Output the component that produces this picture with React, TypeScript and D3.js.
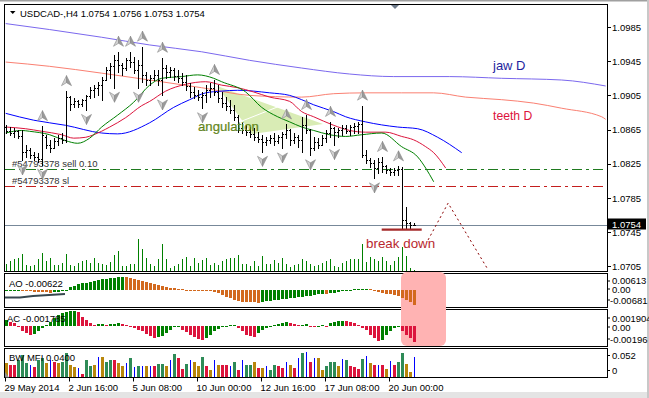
import * as d3 from 'd3';

// H4 bars, USDCAD
const barOpen = [1.0868,1.0863,1.0861,1.0863,1.0857,1.0839,1.0841,1.0835,1.0833,1.0831,1.0856,1.0847,1.0843,1.0852,1.0855,1.0853,1.0903,1.0895,1.0898,1.0895,1.0900,1.0904,1.0911,1.0914,1.0917,1.0923,1.0935,1.0939,1.0946,1.0941,1.0937,1.0946,1.0944,1.0935,1.0941,1.0929,1.0923,1.0925,1.0929,1.0923,1.0937,1.0932,1.0935,1.0928,1.0925,1.0921,1.0916,1.0909,1.0905,1.0903,1.0905,1.0911,1.0914,1.0909,1.0902,1.0896,1.0893,1.0888,1.0880,1.0867,1.0864,1.0862,1.0860,1.0856,1.0854,1.0850,1.0853,1.0855,1.0852,1.0856,1.0860,1.0864,1.0853,1.0856,1.0853,1.0870,1.0864,1.0843,1.0850,1.0847,1.0855,1.0861,1.0867,1.0862,1.0864,1.0867,1.0863,1.0868,1.0869,1.0871,1.0835,1.0829,1.0826,1.0820,1.0827,1.0822,1.0818,1.0815,1.0818,1.0819,1.0759,1.0756,1.0754];
const barHigh = [1.0870,1.0868,1.0867,1.0864,1.0864,1.0847,1.0843,1.0839,1.0838,1.0869,1.0859,1.0853,1.0855,1.0859,1.0861,1.0910,1.0904,1.0902,1.0900,1.0901,1.0905,1.0915,1.0917,1.0921,1.0927,1.0938,1.0943,1.0952,1.0956,1.0943,1.0949,1.0956,1.0950,1.0946,1.0962,1.0932,1.0929,1.0935,1.0935,1.0949,1.0941,1.0938,1.0937,1.0935,1.0931,1.0929,1.0920,1.0915,1.0911,1.0909,1.0917,1.0920,1.0923,1.0917,1.0909,1.0903,1.0900,1.0894,1.0882,1.0873,1.0870,1.0868,1.0867,1.0862,1.0859,1.0856,1.0859,1.0861,1.0859,1.0862,1.0871,1.0866,1.0861,1.0859,1.0880,1.0882,1.0866,1.0856,1.0855,1.0859,1.0864,1.0874,1.0868,1.0867,1.0870,1.0870,1.0870,1.0873,1.0874,1.0893,1.0841,1.0832,1.0829,1.0832,1.0833,1.0824,1.0820,1.0820,1.0822,1.0821,1.0774,1.0757,1.0756];
const barLow = [1.0861,1.0859,1.0856,1.0855,1.0829,1.0833,1.0832,1.0829,1.0827,1.0824,1.0843,1.0839,1.0843,1.0847,1.0849,1.0850,1.0888,1.0891,1.0891,1.0893,1.0888,1.0902,1.0903,1.0905,1.0900,1.0923,1.0925,1.0914,1.0932,1.0929,1.0935,1.0938,1.0931,1.0914,1.0921,1.0917,1.0917,1.0923,1.0917,1.0905,1.0925,1.0927,1.0923,1.0921,1.0917,1.0911,1.0903,1.0902,1.0900,1.0890,1.0897,1.0903,1.0905,1.0897,1.0891,1.0888,1.0884,1.0876,1.0862,1.0861,1.0859,1.0856,1.0853,1.0850,1.0839,1.0847,1.0849,1.0847,1.0849,1.0843,1.0855,1.0847,1.0849,1.0845,1.0839,1.0861,1.0835,1.0841,1.0843,1.0847,1.0850,1.0856,1.0847,1.0856,1.0859,1.0861,1.0859,1.0861,1.0861,1.0833,1.0826,1.0821,1.0808,1.0814,1.0815,1.0814,1.0812,1.0812,1.0812,1.0750,1.0750,1.0750,1.0753];
const barClose = [1.0863,1.0861,1.0863,1.0857,1.0839,1.0841,1.0835,1.0833,1.0831,1.0859,1.0847,1.0843,1.0852,1.0855,1.0853,1.0903,1.0895,1.0898,1.0895,1.0900,1.0904,1.0911,1.0914,1.0917,1.0923,1.0935,1.0939,1.0946,1.0941,1.0937,1.0946,1.0944,1.0935,1.0941,1.0929,1.0923,1.0925,1.0929,1.0923,1.0937,1.0932,1.0935,1.0928,1.0925,1.0921,1.0916,1.0909,1.0905,1.0903,1.0905,1.0911,1.0914,1.0909,1.0902,1.0896,1.0893,1.0888,1.0880,1.0867,1.0864,1.0862,1.0860,1.0856,1.0854,1.0850,1.0853,1.0855,1.0852,1.0856,1.0860,1.0864,1.0853,1.0856,1.0853,1.0870,1.0864,1.0843,1.0850,1.0847,1.0855,1.0861,1.0867,1.0862,1.0864,1.0867,1.0863,1.0868,1.0869,1.0871,1.0835,1.0829,1.0826,1.0820,1.0827,1.0822,1.0818,1.0815,1.0818,1.0819,1.0759,1.0756,1.0754,1.0754];
const tickVolume = [350,500,600,650,850,300,250,300,600,900,500,650,300,300,400,850,300,250,400,500,550,400,650,400,350,300,450,800,1000,250,250,350,350,1600,1100,650,350,250,600,1350,600,150,250,350,600,700,250,650,400,550,650,300,400,300,500,600,650,650,800,350,350,250,500,250,750,350,350,550,400,650,350,200,300,350,600,500,350,250,300,400,500,600,250,200,400,500,600,600,600,1350,450,700,600,500,700,500,300,500,700,1200,750,150,50];

// fractal bars (up above highs, down below lows)
const upFractals = [9,15,28,31,34,39,52,70,75,81,89,94,98];
const downFractals = [4,9,20,27,33,39,49,64,69,76,82,92];

// alligator H4 [bar, price]
const jawH4 = [[0,1.0884],[7,1.0876],[15,1.0870],[24,1.0861],[28,1.0860],[36,1.0873],[42,1.0891],[46,1.0900],[50,1.0908],[54,1.0910],[58,1.0911],[66,1.0908],[71,1.0905],[74,1.0900],[77,1.0894],[82,1.0886],[85,1.0880],[90,1.0874],[98,1.0868],[103,1.0866],[108,1.0856],[114,1.0838]];
const teethH4 = [[0,1.0868],[5,1.0866],[9,1.0863],[14,1.0859],[17,1.0855],[20,1.0856],[22,1.0859],[26,1.0868],[30,1.0879],[34,1.0893],[36,1.0898],[40,1.0910],[45,1.0918],[50,1.0921],[54,1.0917],[58,1.0914],[62,1.0909],[66,1.0903],[71,1.0898],[74,1.0886],[77,1.0880],[82,1.0870],[86,1.0864],[90,1.0862],[95,1.0862],[99,1.0857],[102,1.0853],[105,1.0845],[107,1.0838],[110,1.0820]];
const lipsH4 = [[0,1.0861],[4,1.0864],[6,1.0863],[11,1.0859],[15,1.0852],[18,1.0849],[21,1.0855],[24,1.0868],[28,1.0882],[32,1.0897],[36,1.0917],[39,1.0925],[44,1.0927],[48,1.0929],[52,1.0925],[54,1.0921],[60,1.0909],[64,1.0891],[68,1.0880],[71,1.0874],[74,1.0868],[77,1.0864],[81,1.0859],[85,1.0857],[89,1.0859],[94,1.0861],[99,1.0845],[103,1.0833],[105,1.0820],[107,1.0804]];
// alligator D1 projected on H4
const jawD = [[0,1.0989],[11,1.0982],[24,1.0973],[36,1.0964],[49,1.0956],[61,1.0946],[74,1.0937],[86,1.0930],[97,1.0927],[111,1.0927],[124,1.0925],[139,1.0923],[150,1.0916]];
const teethD = [[0,1.0944],[11,1.0939],[24,1.0931],[36,1.0923],[49,1.0914],[61,1.0905],[74,1.0903],[82,1.0907],[90,1.0908],[99,1.0908],[107,1.0908],[115,1.0903],[124,1.0900],[132,1.0896],[139,1.0890],[149,1.0880],[150,1.0877]];

const aoValues = [-0.0006,-0.0005,-0.0004,-0.0003,-0.0004,-0.0005,-0.0006,-0.0008,-0.0009,-0.0010,-0.0011,-0.0012,-0.0010,-0.0008,-0.0005,-0.0002,0.0010,0.0015,0.0024,0.0026,0.0029,0.0032,0.0036,0.0040,0.0043,0.0045,0.0047,0.0050,0.0051,0.0053,0.0051,0.0049,0.0045,0.0040,0.0038,0.0032,0.0029,0.0024,0.0020,0.0015,0.0013,0.0008,0.0006,0.0003,0.0001,0.0000,-0.0001,-0.0002,-0.0003,-0.0004,-0.0005,-0.0006,-0.0008,-0.0015,-0.0022,-0.0029,-0.0036,-0.0043,-0.0047,-0.0050,-0.0051,-0.0052,-0.0053,-0.0054,-0.0052,-0.0049,-0.0046,-0.0044,-0.0042,-0.0040,-0.0038,-0.0036,-0.0034,-0.0032,-0.0029,-0.0027,-0.0025,-0.0022,-0.0019,-0.0016,-0.0018,-0.0015,-0.0012,-0.0009,-0.0006,-0.0003,-0.0001,0.0001,0.0002,0.0003,0.0004,0.0002,-0.0003,-0.0008,-0.0013,-0.0016,-0.0019,-0.0023,-0.0027,-0.0035,-0.0043,-0.0053,-0.00622];
const acValues = [0.00076,0.00057,0.00038,0.0,-0.00057,-0.00076,-0.00095,-0.00083,-0.00057,-0.00019,0.00019,0.00057,0.00095,0.00133,0.00152,0.00171,0.00175,0.00180,0.00171,0.00114,0.00076,0.00038,0.00015,0.00023,0.00030,0.00019,0.00027,0.00034,0.00038,0.00030,0.00015,0.0,-0.00019,-0.00038,-0.00057,-0.00083,-0.00114,-0.00133,-0.00121,-0.00106,-0.00076,-0.00038,-0.00011,0.00008,-0.00038,-0.00068,-0.00095,-0.00121,-0.00140,-0.00152,-0.00133,-0.00095,-0.00057,-0.00030,-0.00008,0.00008,0.00015,0.00019,-0.00019,-0.00057,-0.00095,-0.00114,-0.00121,-0.00076,-0.00045,-0.00019,0.00008,0.00015,0.00023,0.00038,0.00053,0.00045,0.00030,0.00015,0.00019,0.00023,0.00008,0.00004,0.00011,0.00015,0.00004,0.00045,0.00057,0.00064,0.00068,0.00064,0.00053,0.00038,0.00019,-0.00019,-0.00045,-0.00095,-0.00133,-0.00171,-0.00152,-0.00095,-0.00057,-0.00019,-0.00011,-0.00057,-0.00095,-0.00133,-0.001785];
const mfiValues = [0.0280,0.0247,0.0247,0.0347,0.0447,0.0280,0.0247,0.0213,0.0347,0.0380,0.0280,0.0347,0.0313,0.0280,0.0313,0.0480,0.0247,0.0213,0.0180,0.0067,0.0347,0.0227,0.0247,0.0413,0.0400,0.0313,0.0347,0.0347,0.0280,0.0227,0.0280,0.0380,0.0213,0.0227,0.0227,0.0227,0.0227,0.0227,0.0260,0.0260,0.0227,0.0347,0.0460,0.0393,0.0160,0.0267,0.0347,0.0313,0.0227,0.0400,0.0227,0.0147,0.0347,0.0247,0.0247,0.0247,0.0227,0.0313,0.0147,0.0347,0.0240,0.0240,0.0313,0.0180,0.0180,0.0227,0.0147,0.0247,0.0227,0.0180,0.0313,0.0247,0.0180,0.0380,0.0493,0.0513,0.0313,0.0380,0.0380,0.0147,0.0227,0.0313,0.0313,0.0227,0.0360,0.0347,0.0227,0.0213,0.0173,0.0373,0.0427,0.0280,0.0247,0.0247,0.0247,0.0160,0.0333,0.0240,0.0313,0.0493,0.0267,0.0113,0.0400];
// G green, B fade, U fake, P squat
const mfiKinds = ('BPPGGGUPGG' + 'BUPBGGBBUP' + 'GGBUBGGPBB' + 'UGUGUBUPGG' + 'BUGPPGUBBG' + 'PBUBPPUGPU' + 'GGBPBUGGPP' + 'UBPUGUPUBB' + 'GGGBUGPPPG' + 'UBPUPBUPGG' + 'BBU').split('');

const priceTicks = [1.0985, 1.0945, 1.0905, 1.0865, 1.0825, 1.0785, 1.0745, 1.0705];
const timeTicks = [0, 16, 32, 48, 64, 80, 96];
const timeLabels = ['29 May 2014', '2 Jun 16:00', '5 Jun 08:00', '10 Jun 00:00', '12 Jun 16:00', '17 Jun 08:00', '20 Jun 00:00'];

const sellPrice = 1.0819;
const slPrice = 1.0799;
const lastPrice = 1.0754;

const mfiColor = { G: '#2e8b57', B: '#b8860b', U: '#0000ff', P: '#dc143c' };

function App() {
  const x = d3.scaleLinear().domain([0, 150]).range([5.7, 605.7]);
  const bx = (i) => Math.round(x(i));
  const y = d3.scaleLinear().domain([1.0705, 1.0985]).range([266.4, 27]);
  const yVol = d3.scaleLinear().domain([0, 2000]).range([270.5, 230.5]);
  const yAO = d3.scaleLinear().domain([-0.00681, 0.00613]).range([306, 275]);
  const yAC = d3.scaleLinear().domain([-0.00196, 0.001904]).range([343.5, 309.9]);
  const yMFI = d3.scaleLinear().domain([0, 0.052]).range([377.3, 351.3]);

  const line = d3.line().x(d => x(d[0])).y(d => y(d[1])).curve(d3.curveMonotoneX);
  const font = "'Liberation Sans', Arial, sans-serif";

  const histo = (vals, ys, up, down) => vals.map((v, i) => {
    const y0 = ys(0), y1 = ys(v);
    const col = i === 0 || v >= vals[i - 1] ? up : down;
    return <rect key={i} x={bx(i) - 1} y={Math.min(y0, y1)} width={3} height={Math.max(1, Math.abs(y1 - y0))} fill={col} />;
  });

  // gray 3D-ish fractal arrowheads
  const arrow = (cx, cy, dir, key) => {
    const s = dir; // -1 up, 1 down
    const tip = cy + s * 5.5, wing = cy - s * 4.5, notch = cy - s * 1.5;
    return (
      <g key={key}>
        <path d={`M${cx},${tip} L${cx - 5},${wing} L${cx},${notch} Z`} fill="#d0d0d0" stroke="#8a8a8a" strokeWidth={0.6} strokeLinejoin="round" />
        <path d={`M${cx},${tip} L${cx + 5},${wing} L${cx},${notch} Z`} fill="#9a9a9a" stroke="#8a8a8a" strokeWidth={0.6} strokeLinejoin="round" />
      </g>
    );
  };

  return (
    <div style={{ position: 'fixed', left: 0, top: 0 }}>
      <svg width={649} height={398} style={{ display: 'block' }} fontFamily={font}>
        <rect width={649} height={398} fill="#fff" />
        <rect x={0} y={0} width={649} height={1.5} fill="#a0a0a0" />
        <rect x={0} y={392} width={649} height={6} fill="#e4e4e4" />
        <rect x={647} y={0} width={2} height={398} fill="#c8c8c8" />

        {/* angulation triangle */}
        <polygon points="217,86 323,124 252,134" fill="#d9ecb5" />
        <line x1={232} y1={125} x2={290} y2={102} stroke="#fff" strokeWidth={1} />

        {/* daily alligator */}
        <path d={line(jawD)} fill="none" stroke="#7b68ee" strokeWidth={1} />
        <path d={line(teethD)} fill="none" stroke="#fa8072" strokeWidth={1} />

        {/* H4 alligator */}
        <path d={line(jawH4)} fill="none" stroke="#0000ff" strokeWidth={1} />
        <path d={line(teethH4)} fill="none" stroke="#dc143c" strokeWidth={1} />
        <path d={line(lipsH4)} fill="none" stroke="#008000" strokeWidth={1} />

        {/* volumes */}
        <g shapeRendering="crispEdges">
          {tickVolume.map((v, i) => (
            <rect key={i} x={bx(i)} y={yVol(v)} width={1} height={yVol(0) - yVol(v)} fill="#008000" />
          ))}
        </g>

        {/* order lines */}
        <line x1={5} x2={607} y1={Math.round(y(sellPrice)) + 0.5} y2={Math.round(y(sellPrice)) + 0.5} stroke="#1f7a1f" strokeDasharray="10,4,3,4" />
        <line x1={5} x2={607} y1={Math.round(y(slPrice)) + 0.5} y2={Math.round(y(slPrice)) + 0.5} stroke="#c41e1e" strokeDasharray="10,4,3,4" />
        <text x={12} y={167} fontSize={9.5} fill="#333">#54793378 sell 0.10</text>
        <text x={12} y={183.5} fontSize={9.5} fill="#333">#54793378 sl</text>
        <line x1={5} x2={607} y1={Math.round(y(lastPrice)) + 0.5} y2={Math.round(y(lastPrice)) + 0.5} stroke="#778899" />

        {/* price bars */}
        <g shapeRendering="crispEdges" fill="#000">
          {barHigh.map((h, i) => {
            const cx = bx(i);
            const yh = Math.round(y(h)), yl = Math.round(y(barLow[i]));
            return (
              <g key={i}>
                <rect x={cx} y={yh} width={1} height={Math.max(1, yl - yh + 1)} />
                <rect x={cx - 1} y={Math.round(y(barOpen[i]))} width={1} height={1} />
                <rect x={cx + 1} y={Math.round(y(barClose[i]))} width={1} height={1} />
              </g>
            );
          })}
        </g>

        {/* fractals */}
        {upFractals.map(i => arrow(bx(i) + 0.5, y(barHigh[i]) - 10, -1, 'u' + i))}
        {downFractals.map(i => arrow(bx(i) + 0.5, y(barLow[i]) + 9, 1, 'd' + i))}

        {/* annotations */}
        <text x={198} y={131} fontSize={13.2} fill="#6a8f1c" stroke="#4a6a10" strokeWidth={0.2}>angulation</text>
        <text x={493} y={70} fontSize={13} fill="#1e1e9e">jaw D</text>
        <text x={493} y={119.5} fontSize={12.2} fill="#dc143c">teeth D</text>
        <line x1={x(94)} x2={x(104)} y1={y(1.0748)} y2={y(1.0748)} stroke="#a52a2a" strokeWidth={2.2} />
        <text x={366} y={248} fontSize={13.4} fill="#b8282e">break down</text>
        <polyline points={`${x(105.6)},${y(1.0736)} ${x(110.6)},${y(1.0779)} ${x(120.6)},${y(1.0701)}`} fill="none" stroke="#8b0000" strokeDasharray="2,3" />

        {/* title */}
        <polygon points="10,11 15.5,11 12.75,14" fill="#000" />
        <text x={20} y={16.5} fontSize={9.5} fill="#000">USDCAD-,H4  1.0754 1.0756 1.0753 1.0754</text>

        {/* shift marker */}
        <polygon points="390,4 400,4 395,9" fill="#6e7b8b" />

        {/* panel frames */}
        <g fill="none" stroke="#000" shapeRendering="crispEdges">
          <rect x={4.5} y={4.5} width={603} height={267} />
          <rect x={4.5} y={273.5} width={603} height={34} />
          <rect x={4.5} y={309.5} width={603} height={37} />
          <rect x={4.5} y={348.5} width={603} height={29} />
        </g>

        {/* highlight box */}
        <rect x={401} y={272} width={45} height={74} rx={6} fill="#ffb3b3" />

        {/* AO */}
        <g shapeRendering="crispEdges">{histo(aoValues, yAO, '#008000', '#d2691e')}</g>
        <polyline points="5,297.5 20,297.5 33,296 65,294" fill="none" stroke="#37474f" strokeWidth={2} />
        <text x={9} y={286.5} fontSize={9.5}>AO -0.00622</text>

        {/* AC */}
        <g shapeRendering="crispEdges">{histo(acValues, yAC, '#008000', '#dc143c')}</g>
        <text x={7} y={322} fontSize={9.5}>AC -0.001785</text>

        {/* BW MFI */}
        <g shapeRendering="crispEdges">
          {mfiValues.map((v, i) => {
            const k = mfiKinds[i];
            const w = k === 'U' ? 1 : 3;
            return <rect key={i} x={k === 'U' ? bx(i) : bx(i) - 1} y={yMFI(v)} width={w} height={yMFI(0) - yMFI(v)} fill={mfiColor[k]} />;
          })}
        </g>
        <polygon points="5,372 5,377.5 9,377.5" fill="#909090" />
        <text x={9} y={360.5} fontSize={9.5}>BW MFI 0.0400</text>

        {/* price axis */}
        <g fontSize={9.5} fill="#000">
          {priceTicks.map(p => (
            <g key={p}>
              <line x1={607.5} x2={611} y1={Math.round(y(p)) + 0.5} y2={Math.round(y(p)) + 0.5} stroke="#000" />
              <text x={612} y={y(p) + 3.5}>{p.toFixed(4)}</text>
            </g>
          ))}
          <rect x={608} y={218.5} width={38} height={11} fill="#000" />
          <text x={612} y={227.5} fill="#fff">{lastPrice.toFixed(4)}</text>

          <text x={612} y={284}>0.00613</text>
          <text x={612} y={292.5}>0.00</text>
          <text x={610} y={303.5}>-0.00681</text>
          <text x={612} y={322}>0.001904</text>
          <text x={612} y={330.5}>0.00</text>
          <text x={610} y={343}>-0.00196</text>
          <text x={612} y={359}>0.052</text>
          <text x={612} y={374}>0</text>
          {[281, 289, 300, 318, 327, 339, 355.5, 370.5].map(t => (
            <line key={t} x1={607.5} x2={610} y1={t} y2={t} stroke="#000" />
          ))}
        </g>

        {/* time axis */}
        <g fontSize={9.5} fill="#000">
          {timeTicks.map((t, k) => (
            <g key={t}>
              <line x1={bx(t) - 0.5} x2={bx(t) - 0.5} y1={377.5} y2={381.5} stroke="#000" />
              <text x={bx(t) - 1.5} y={390.5}>{timeLabels[k]}</text>
            </g>
          ))}
        </g>
      </svg>
    </div>
  );
}

export default App;
